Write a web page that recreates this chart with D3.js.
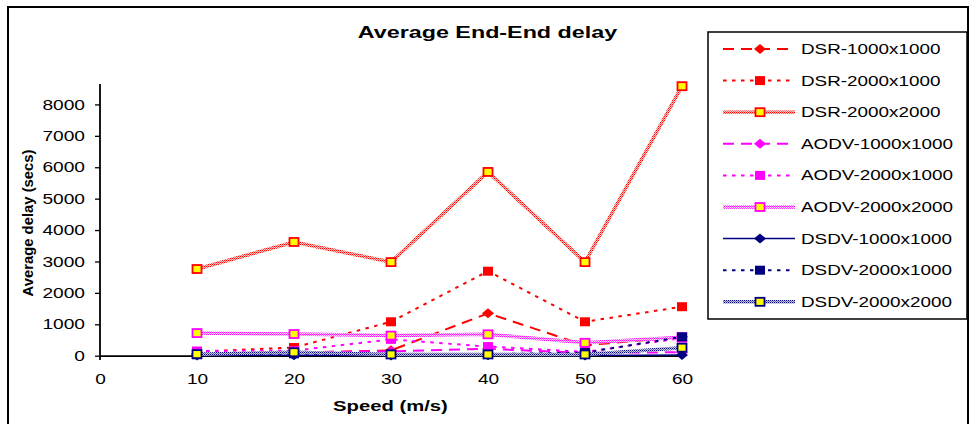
<!DOCTYPE html>
<html lang="en">
<head>
<meta charset="UTF-8">
<script src="https://d3js.org/d3.v7.min.js"></script>
<title>Average End-End delay</title>
<style>
  body { margin: 0; background: #fff; }
  text { font-family: "Liberation Sans", Arial, sans-serif; fill: #000; }
</style>
</head>
<body>
<div id="container"></div>
<script>
// data
var speeds = [10, 20, 30, 40, 50, 60];
var seriesNames = ["DSR-1000x1000", "DSR-2000x1000", "DSR-2000x2000",
                   "AODV-1000x1000", "AODV-2000x1000", "AODV-2000x2000",
                   "DSDV-1000x1000", "DSDV-2000x1000", "DSDV-2000x2000"];
var dsr1000x1000  = [40, 90, 170, 1350, 330, 600];
var dsr2000x1000  = [130, 260, 1080, 2690, 1080, 1560];
var dsr2000x2000  = [2760, 3620, 2980, 5850, 2980, 8580];
var aodv1000x1000 = [60, 110, 140, 220, 90, 110];
var aodv2000x1000 = [150, 160, 520, 290, 120, 560];
var aodv2000x2000 = [720, 690, 640, 680, 410, 590];
var dsdv1000x1000 = [8, 12, 10, 15, 9, 20];
var dsdv2000x1000 = [30, 60, 50, 45, 100, 600];
var dsdv2000x2000 = [50, 110, 40, 40, 40, 255];
var yTicks = [0, 1000, 2000, 3000, 4000, 5000, 6000, 7000, 8000];
var xTicks = [0, 10, 20, 30, 40, 50, 60];

var allValues = [dsr1000x1000, dsr2000x1000, dsr2000x2000,
                 aodv1000x1000, aodv2000x1000, aodv2000x2000,
                 dsdv1000x1000, dsdv2000x1000, dsdv2000x2000];

// style per series: colour, line kind, marker kind
var red = "#ff0000", magenta = "#ff00ff", navy = "#000080";
var styles = [
  {c: red, line: "dash", mark: "diamond"},
  {c: red, line: "dot", mark: "square"},
  {c: red, line: "thick", mark: "yellow"},
  {c: magenta, line: "dash", mark: "diamond"},
  {c: magenta, line: "dot", mark: "square"},
  {c: magenta, line: "thick", mark: "yellow"},
  {c: navy, line: "solid", mark: "diamond"},
  {c: navy, line: "dot", mark: "square"},
  {c: navy, line: "thick", mark: "yellow"}
];

var width = 971, height = 424;
var svg = d3.select("#container").append("svg")
  .attr("width", width).attr("height", height);

// stretch text horizontally like the reference picture
function stretch(sel, k) {
  sel.each(function() {
    var w = this.getComputedTextLength();
    d3.select(this).attr("textLength", w * k).attr("lengthAdjust", "spacingAndGlyphs");
  });
}

// textured patterns for the thick lines (dithered colour + light tint)
var defs = svg.append("defs");
var tints = {};
tints[red] = "#ffc0c0";
tints[magenta] = "#ffc8ff";
tints[navy] = "#c8c8e8";
[red, magenta, navy].forEach(function(c, i) {
  var p = defs.append("pattern").attr("id", "tex" + i)
    .attr("patternUnits", "userSpaceOnUse").attr("width", 2).attr("height", 2);
  p.append("rect").attr("width", 2).attr("height", 2).attr("fill", tints[c]);
  p.append("rect").attr("width", 1).attr("height", 1).attr("fill", c);
  p.append("rect").attr("x", 1).attr("y", 1).attr("width", 1).attr("height", 1).attr("fill", c).attr("opacity", 0.5);
});
function texId(c) { return c === red ? "url(#tex0)" : c === magenta ? "url(#tex1)" : "url(#tex2)"; }

// outer frame
svg.append("rect").attr("x", 8).attr("y", 7).attr("width", 960).attr("height", 440)
  .attr("fill", "none").attr("stroke", "#000").attr("stroke-width", 2);

var x = d3.scaleLinear().domain([0, 60]).range([100, 682]);
var y = d3.scaleLinear().domain([0, 8650]).range([355.7, 84]);

// title
var title = svg.append("text").attr("x", 487.5).attr("y", 37.5)
  .attr("text-anchor", "middle").style("font-weight", "bold").style("font-size", "17px")
  .text("Average End-End delay");
stretch(title, 1.37);

// y axis
var yAxis = svg.append("g").attr("transform", "translate(100,0)")
  .call(d3.axisLeft(y).tickValues(yTicks).tickSize(5).tickPadding(10).tickSizeOuter(0).tickFormat(d3.format("d")));
yAxis.select(".domain").attr("stroke-width", 1.8).attr("d", "M0,84V360");
yAxis.selectAll(".tick line").attr("stroke-width", 1.3);
yAxis.selectAll("text").style("font-size", "14.5px").attr("fill", "#000");
stretch(yAxis.selectAll("text"), 1.32);

// x axis
var xAxis = svg.append("g").attr("transform", "translate(0,355.7)")
  .call(d3.axisBottom(x).tickValues(xTicks).tickSize(0).tickSizeOuter(0));
xAxis.select(".domain").attr("stroke-width", 1.8);
xAxis.selectAll("text").style("font-size", "15px").attr("fill", "#000")
  .attr("y", 28.3).attr("dy", 0);
stretch(xAxis.selectAll("text"), 1.27);

// axis titles
var xt = svg.append("text").attr("x", 390.5).attr("y", 411)
  .attr("text-anchor", "middle").style("font-weight", "bold").style("font-size", "15px")
  .text("Speed (m/s)");
stretch(xt, 1.35);
svg.append("text").attr("transform", "translate(33,223) rotate(-90)")
  .attr("text-anchor", "middle").style("font-weight", "bold").style("font-size", "14.5px")
  .attr("textLength", 147).attr("lengthAdjust", "spacingAndGlyphs")
  .text("Average delay (secs)");

function applyLine(sel, st) {
  if (st.line === "thick") {
    sel.attr("stroke", texId(st.c)).attr("stroke-width", 3.5);
  } else {
    sel.attr("stroke", st.c).attr("stroke-width", st.line === "solid" ? 1.5 : 2);
    if (st.line === "dash") sel.attr("stroke-dasharray", "11,7");
    if (st.line === "dot") sel.attr("stroke-dasharray", "3.5,5.5");
  }
  sel.attr("fill", "none");
}

function drawMarker(g, st, cx, cy) {
  if (st.mark === "diamond") {
    g.append("path").attr("d", "M" + (cx - 6) + "," + cy + "L" + cx + "," + (cy - 5) +
        "L" + (cx + 6) + "," + cy + "L" + cx + "," + (cy + 5) + "Z")
      .attr("fill", st.c);
  } else if (st.mark === "square") {
    g.append("rect").attr("x", cx - 5).attr("y", cy - 4.5).attr("width", 10).attr("height", 9)
      .attr("fill", st.c);
  } else {
    g.append("rect").attr("x", cx - 4.5).attr("y", cy - 4).attr("width", 9).attr("height", 8)
      .attr("fill", "#ffff00").attr("stroke", st.c).attr("stroke-width", 1.8);
  }
}

var line = d3.line().x(function(d, i) { return x(speeds[i]); }).y(function(d) { return y(d); });

var plot = svg.append("g");
allValues.forEach(function(vals, k) {
  var st = styles[k];
  var g = plot.append("g");
  applyLine(g.append("path").attr("d", line(vals)), st);
  vals.forEach(function(v, i) { drawMarker(g, st, x(speeds[i]), y(v)); });
});

// legend
var legend = svg.append("g");
legend.append("rect").attr("x", 708).attr("y", 32).attr("width", 259).attr("height", 287)
  .attr("fill", "#fff").attr("stroke", "#000").attr("stroke-width", 1.5);
seriesNames.forEach(function(name, k) {
  var st = styles[k];
  var cy = 49 + k * 31.6;
  applyLine(legend.append("path").attr("d", "M723," + cy + "H795"), st);
  drawMarker(legend, st, 760, cy);
  var t = legend.append("text").attr("x", 801).attr("y", cy + 5)
    .style("font-size", "14.5px").text(name);
  stretch(t, 1.3);
});
</script>
</body>
</html>
